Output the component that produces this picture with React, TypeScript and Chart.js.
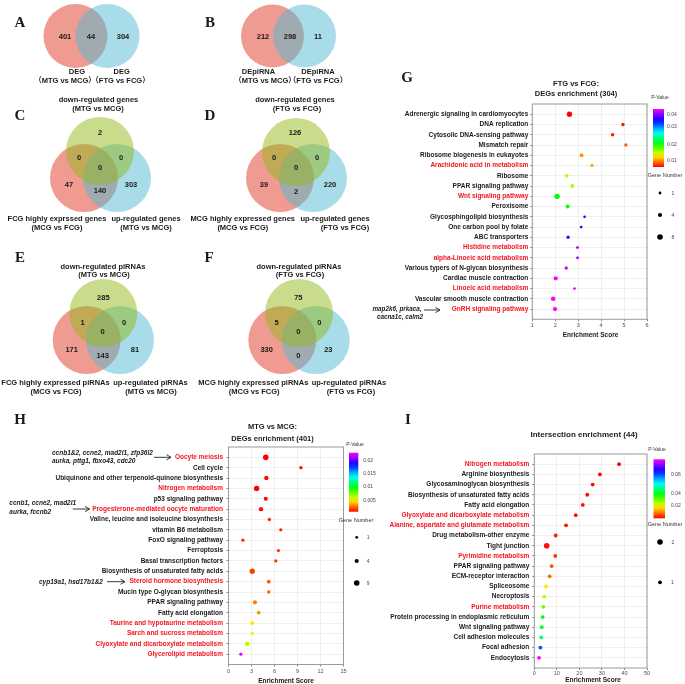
import React, { useEffect, useRef } from 'react';
import { Chart, registerables } from 'chart.js';

Chart.register(...registerables);

const SANS = '"Liberation Sans", Arial, "Noto Sans CJK SC", sans-serif';
const SERIF = '"Liberation Serif", "Times New Roman", serif';
Chart.defaults.font.family = SANS;

// ---------------- Venn counts ----------------
// two-set order: left only, overlap, right only
const aCounts = [401, 44, 304];
const bCounts = [212, 298, 11];
// three-set order: top only, top∩left, top∩right, all three, left only, left∩right, right only
const cCounts = [2, 0, 0, 0, 47, 140, 303];
const dCounts = [126, 0, 0, 0, 39, 2, 220];
const eCounts = [285, 1, 0, 0, 171, 143, 81];
const fCounts = [75, 5, 0, 0, 330, 0, 23];

// ---------------- G: FTG vs FCG ----------------
const gPathways = [
  'Adrenergic signaling in cardiomyocytes',
  'DNA replication',
  'Cytosolic DNA-sensing pathway',
  'Mismatch repair',
  'Ribosome biogenesis in eukayotes',
  'Arachidonic acid in metabolism',
  'Ribosome',
  'PPAR signaling pathway',
  'Wnt signaling pathway',
  'Peroxisome',
  'Glycosphingolipid biosynthesis',
  'One carbon pool by folate',
  'ABC transporters',
  'Histidine metabolism',
  'alpha-Linoeic acid metabolism',
  'Various typers of N-glycan biosynthesis',
  'Cardiac muscle contraction',
  'Linoeic acid metabolism',
  'Vascular smooth muscle contraction',
  'GnRH signaling pathway',
];
const gScore = [2.62, 4.95, 4.5, 5.08, 3.15, 3.6, 2.5, 2.74, 2.08, 2.54, 3.28, 3.13, 2.56, 2.97, 2.97, 2.48, 2.02, 2.84, 1.91, 1.99];
const gPValue = [0.0055, 0.006, 0.006, 0.008, 0.0098, 0.0105, 0.015, 0.0155, 0.0205, 0.0205, 0.0345, 0.035, 0.038, 0.04, 0.04, 0.042, 0.0433, 0.0433, 0.0433, 0.0433];
const gGenes = [7, 2, 2, 2, 3, 2, 3, 3, 7, 3, 1, 1, 2, 1, 1, 2, 4, 1, 5, 4];
const gHighlight = ['Arachidonic acid in metabolism', 'Wnt signaling pathway', 'Histidine metabolism', 'alpha-Linoeic acid metabolism', 'Linoeic acid metabolism', 'GnRH signaling pathway'];
const gXTicks = [1, 6, 1];
const gPTicks = ['0.04', '0.03', '0.02', '0.01'];
const gSizeLegend = [1, 4, 8];

// ---------------- H: MTG vs MCG ----------------
const hPathways = [
  'Oocyte meiosis',
  'Cell cycle',
  'Ubiquinone and other terpenoid-quinone biosynthesis',
  'Nitrogen metabolism',
  'p53 signaling pathway',
  'Progesterone-mediated oocyte maturation',
  'Valine, leucine and isoleucine biosynthesis',
  'vitamin B6 metabolism',
  'FoxO signaling pathway',
  'Ferroptosis',
  'Basal transcription factors',
  'Biosynthesis of unsaturated fatty acids',
  'Steroid hormone biosynthesis',
  'Mucin type O-glycan biosynthesis',
  'PPAR signaling pathway',
  'Fatty acid elongation',
  'Taurine and hypotaurine metabolism',
  'Sarch and sucross metabolism',
  'Clyoxylate and dicarboxylate metabolism',
  'Glycerolipid metabolism',
];
const hScore = [4.86, 9.45, 4.94, 3.67, 4.86, 4.24, 5.33, 6.82, 1.88, 6.51, 6.17, 3.1, 5.25, 5.25, 3.45, 3.94, 3.1, 3.1, 2.44, 1.61];
const hPValue = [0.0006, 0.0007, 0.0007, 0.0006, 0.0007, 0.0008, 0.0012, 0.0012, 0.0013, 0.0015, 0.0015, 0.0017, 0.0021, 0.0022, 0.0028, 0.0032, 0.0047, 0.0058, 0.0061, 0.0225];
const hGenes = [9, 2, 5, 8, 4, 5, 2, 2, 2, 2, 2, 8, 3, 2, 4, 3, 4, 2, 6, 2];
const hHighlight = ['Oocyte meiosis', 'Nitrogen metabolism', 'Progesterone-mediated oocyte maturation', 'Steroid hormone biosynthesis', 'Taurine and hypotaurine metabolism', 'Sarch and sucross metabolism', 'Clyoxylate and dicarboxylate metabolism', 'Glycerolipid metabolism'];
const hXTicks = [0, 15, 3];
const hPTicks = ['0.02', '0.015', '0.01', '0.005'];
const hSizeLegend = [1, 4, 9];

// ---------------- I: Intersection ----------------
const iPathways = [
  'Nitrogen metabolism',
  'Arginine biosynthesis',
  'Glycosaminoglycan biosynthesis',
  'Biosynthesis of unsaturated fatty acids',
  'Fatty acid elongation',
  'Glyoxylate and dicarboxylate metabolism',
  'Alanine, aspartate and glutamate metabolism',
  'Drug metabolism-other enzyme',
  'Tight junction',
  'Pyrimidine metabolism',
  'PPAR signaling pathway',
  'ECM-receptor interaction',
  'Spliceosome',
  'Necroptosis',
  'Purine metabolism',
  'Protein processing in endoplasmic reticulum',
  'Wnt signaling pathway',
  'Cell adhesion molecules',
  'Focal adhesion',
  'Endocytosis',
];
const iScore = [37.6, 29.1, 25.9, 23.5, 21.5, 18.4, 14.1, 9.5, 5.5, 9.3, 7.7, 6.8, 5.2, 4.4, 4.0, 3.7, 3.3, 3.1, 2.7, 2.1];
const iPValue = [0.0035, 0.0038, 0.004, 0.004, 0.0042, 0.0045, 0.0047, 0.005, 0.0045, 0.006, 0.0079, 0.0097, 0.0172, 0.0223, 0.0273, 0.0336, 0.0361, 0.041, 0.0587, 0.0788];
const iGenes = [1, 1, 1, 1, 1, 1, 1, 1, 2, 1, 1, 1, 1, 1, 1, 1, 1, 1, 1, 1];
const iHighlight = ['Nitrogen metabolism', 'Glyoxylate and dicarboxylate metabolism', 'Alanine, aspartate and glutamate metabolism', 'Pyrimidine metabolism', 'Purine metabolism'];
const iXTicks = [0, 50, 10];
const iPTicks = ['0.06', '0.04', '0.02'];
const iSizeLegend = [2, 1];

// ---------------- styling helpers ----------------
const RED_TXT = '#f5141e';
const DARK = '#1a1a1a';

function pColor(p: number, lo: number, hi: number) {
  const t = Math.min(1, Math.max(0, (p - lo) / (hi - lo)));
  return `hsl(${300 * t}, 100%, 50%)`;
}

type SizeScale = { gLo: number; gHi: number; rLo: number; rHi: number };
function sizeFor(g: number, s: SizeScale) {
  const f = Math.min(1, Math.max(0, (g - s.gLo) / (s.gHi - s.gLo)));
  return Math.sqrt(s.rLo * s.rLo + (s.rHi * s.rHi - s.rLo * s.rLo) * f);
}

type Spec = {
  labels: string[]; scores: number[]; pvals: number[]; genes: number[]; highlight: string[];
  xTicks: number[];
  box: { left: number; top: number; width: number; height: number };
  padTop: number; padRight: number; yAxisW: number; xAxisH: number;
  xTickPad: number; yTickPad: number;
  pLo: number; pHi: number; size: SizeScale;
};

const G_SPEC: Spec = {
  labels: gPathways, scores: gScore, pvals: gPValue, genes: gGenes, highlight: gHighlight, xTicks: gXTicks,
  box: { left: 380, top: 94, width: 272, height: 255 }, padTop: 10, padRight: 5, yAxisW: 152.3, xAxisH: 29.7,
  xTickPad: 1, yTickPad: 2, pLo: 0.0054, pHi: 0.0433, size: { gLo: 1, gHi: 8, rLo: 1.4, rHi: 2.8 },
};
const H_SPEC: Spec = {
  labels: hPathways, scores: hScore, pvals: hPValue, genes: hGenes, highlight: hHighlight, xTicks: hXTicks,
  box: { left: 0, top: 435, width: 349, height: 249 }, padTop: 12, padRight: 5.5, yAxisW: 228.5, xAxisH: 19.5,
  xTickPad: 2, yTickPad: 3.5, pLo: 0.0006, pHi: 0.0227, size: { gLo: 1, gHi: 9, rLo: 1.4, rHi: 2.8 },
};
const I_SPEC: Spec = {
  labels: iPathways, scores: iScore, pvals: iPValue, genes: iGenes, highlight: iHighlight, xTicks: iXTicks,
  box: { left: 380, top: 442, width: 272, height: 242 }, padTop: 12, padRight: 5, yAxisW: 154.3, xAxisH: 16,
  xTickPad: 0, yTickPad: 3, pLo: 0.0034, pHi: 0.0788, size: { gLo: 1, gHi: 2, rLo: 1.9, rHi: 2.8 },
};

// ---------------- Venn layout (geometry only) ----------------
type Circle = { col: 'red' | 'blue' | 'green'; x: number; y: number; r: number };
type Venn = { counts: number[]; circles: Circle[]; spots: number[][] };
const VENNS: Venn[] = [
  { counts: aCounts, circles: [{ col: 'red', x: 75.5, y: 36, r: 32 }, { col: 'blue', x: 107.5, y: 36, r: 32 }], spots: [[65, 37], [91, 37], [123, 37]] },
  { counts: bCounts, circles: [{ col: 'red', x: 272.5, y: 36, r: 31.5 }, { col: 'blue', x: 304.5, y: 36, r: 31.5 }], spots: [[263, 37], [290, 37], [318, 37]] },
  { counts: cCounts, circles: [{ col: 'green', x: 100, y: 151, r: 34 }, { col: 'red', x: 84, y: 178, r: 34 }, { col: 'blue', x: 117, y: 178, r: 34 }],
    spots: [[100, 133], [79, 158], [121, 158], [100, 168], [69, 185], [100, 191], [131, 185]] },
  { counts: dCounts, circles: [{ col: 'green', x: 296, y: 152, r: 34 }, { col: 'red', x: 280, y: 178, r: 34 }, { col: 'blue', x: 313, y: 178, r: 34 }],
    spots: [[295, 133], [274, 158], [317, 158], [296, 167.5], [264, 184.5], [296, 191.5], [330, 184.5]] },
  { counts: eCounts, circles: [{ col: 'green', x: 103.3, y: 313, r: 34 }, { col: 'red', x: 86.7, y: 340, r: 34 }, { col: 'blue', x: 120, y: 340, r: 34 }],
    spots: [[103.3, 298.3], [82.7, 323.3], [124, 323.3], [102.7, 332.3], [71.7, 350], [102.7, 356], [135, 350]] },
  { counts: fCounts, circles: [{ col: 'green', x: 299, y: 313, r: 34 }, { col: 'red', x: 282.3, y: 340, r: 34 }, { col: 'blue', x: 315.7, y: 340, r: 34 }],
    spots: [[298.3, 298.3], [276.7, 323.3], [319.3, 323.3], [298.3, 332.3], [266.7, 350], [298.3, 356], [328.3, 350]] },
];

const ARROWS = [
  [424, 440, 310],
  [154, 171, 457.3],
  [72.7, 89.5, 509],
  [107, 125, 581.7],
];
const BARS = [
  { x: 653, y: 109, w: 11, h: 58 },
  { x: 349, y: 452.7, w: 9.3, h: 59 },
  { x: 653.5, y: 459.3, w: 11.5, h: 59 },
];
const SIZE_LEGENDS = [
  { values: gSizeLegend, size: G_SPEC.size, x: 660, ys: [193, 215, 237] },
  { values: hSizeLegend, size: H_SPEC.size, x: 356.7, ys: [537.3, 561, 583] },
  { values: iSizeLegend, size: I_SPEC.size, x: 660, ys: [542, 582.3] },
];

// ---------------- plugins ----------------
const vennNumbers = {
  id: 'vennNumbers',
  afterDatasetsDraw(chart: any) {
    const { ctx, scales } = chart;
    ctx.save();
    ctx.font = `bold 7.5px ${SANS}`;
    ctx.fillStyle = DARK;
    ctx.textAlign = 'center';
    ctx.textBaseline = 'middle';
    VENNS.forEach((v) => v.spots.forEach((s, i) => {
      ctx.fillText(String(v.counts[i]), scales.x.getPixelForValue(s[0]), scales.y.getPixelForValue(s[1]));
    }));
    ctx.restore();
  },
};

const decor = {
  id: 'decor',
  afterDraw(chart: any) {
    const { ctx, scales } = chart;
    const px = (v: number) => scales.x.getPixelForValue(v);
    const py = (v: number) => scales.y.getPixelForValue(v);
    ctx.save();
    // arrows
    ctx.strokeStyle = '#222';
    ctx.lineWidth = 0.9;
    ARROWS.forEach(([x1, x2, y]) => {
      ctx.beginPath();
      ctx.moveTo(px(x1), py(y));
      ctx.lineTo(px(x2), py(y));
      ctx.stroke();
      ctx.beginPath();
      ctx.moveTo(px(x2) - 4.5, py(y) - 2.6);
      ctx.lineTo(px(x2), py(y));
      ctx.lineTo(px(x2) - 4.5, py(y) + 2.6);
      ctx.stroke();
    });
    // colour bars
    BARS.forEach((b) => {
      const top = py(b.y);
      const bottom = py(b.y + b.h);
      const g = ctx.createLinearGradient(0, bottom, 0, top);
      for (let k = 0; k <= 12; k++) g.addColorStop(k / 12, `hsl(${(300 * k) / 12}, 100%, 50%)`);
      ctx.fillStyle = g;
      ctx.fillRect(px(b.x), top, px(b.x + b.w) - px(b.x), bottom - top);
    });
    // gene number legend dots
    ctx.fillStyle = '#000';
    SIZE_LEGENDS.forEach((l) => {
      l.values.forEach((v, i) => {
        ctx.beginPath();
        ctx.arc(px(l.x), py(l.ys[i]), sizeFor(v, l.size), 0, Math.PI * 2);
        ctx.fill();
      });
    });
    ctx.restore();
  },
};

const frame = {
  id: 'frame',
  beforeDatasetsDraw(chart: any) {
    const { ctx, chartArea: a } = chart;
    ctx.save();
    ctx.strokeStyle = '#9a9a9a';
    ctx.lineWidth = 1;
    ctx.strokeRect(a.left, a.top, a.right - a.left, a.bottom - a.top);
    ctx.restore();
  },
};

// ---------------- components ----------------
function Overlay() {
  const ref = useRef<HTMLCanvasElement>(null);
  useEffect(() => {
    const all = VENNS.flatMap((v) => v.circles);
    const ds = (col: string) => all.filter((c) => c.col === col).map((c) => ({ x: c.x, y: c.y, r: c.r }));
    const chart = new Chart(ref.current as HTMLCanvasElement, {
      type: 'bubble',
      data: {
        datasets: [
          { label: 'green', data: ds('green'), backgroundColor: 'rgba(145,185,25,0.5)', borderWidth: 0, order: 0 },
          { label: 'blue', data: ds('blue'), backgroundColor: 'rgba(81,185,209,0.5)', borderWidth: 0, order: 1 },
          { label: 'red', data: ds('red'), backgroundColor: 'rgba(225,55,35,0.5)', borderWidth: 0, order: 2 },
        ],
      },
      options: {
        animation: false,
        responsive: true,
        maintainAspectRatio: false,
        events: [],
        clip: false,
        layout: { padding: 0, autoPadding: false },
        scales: {
          x: { type: 'linear', min: 0, max: 685, display: false },
          y: { type: 'linear', min: 0, max: 684, reverse: true, display: false },
        },
        plugins: { legend: { display: false }, tooltip: { enabled: false } },
      } as any,
      plugins: [vennNumbers, decor],
    });
    return () => chart.destroy();
  }, []);
  return (
    <div style={{ position: 'absolute', left: 0, top: 0, width: 685, height: 684 }}>
      <canvas ref={ref} />
    </div>
  );
}

function Enrich({ spec }: { spec: Spec }) {
  const ref = useRef<HTMLCanvasElement>(null);
  useEffect(() => {
    const n = spec.labels.length;
    const hl = new Set(spec.highlight);
    const chart = new Chart(ref.current as HTMLCanvasElement, {
      type: 'scatter',
      data: {
        datasets: [
          {
            data: spec.scores.map((s, i) => ({ x: s, y: i })),
            pointRadius: spec.genes.map((g) => sizeFor(g, spec.size)),
            pointHoverRadius: spec.genes.map((g) => sizeFor(g, spec.size)),
            pointBackgroundColor: spec.pvals.map((p) => pColor(p, spec.pLo, spec.pHi)),
            pointBorderWidth: 0,
            showLine: false,
          },
        ],
      },
      options: {
        animation: false,
        responsive: true,
        maintainAspectRatio: false,
        events: [],
        layout: { padding: { top: spec.padTop, right: spec.padRight, left: 0, bottom: 0 }, autoPadding: false },
        plugins: { legend: { display: false }, tooltip: { enabled: false } },
        scales: {
          x: {
            type: 'linear',
            min: spec.xTicks[0],
            max: spec.xTicks[1],
            ticks: { stepSize: spec.xTicks[2], font: { size: 5.5 }, color: '#4d4d4d', padding: spec.xTickPad },
            grid: { color: '#ebebeb', lineWidth: 0.8, tickLength: 2, tickColor: '#666' },
            border: { display: false },
            afterFit: (s: any) => { s.height = spec.xAxisH; },
          },
          y: {
            type: 'linear',
            reverse: true,
            min: -1,
            max: n,
            afterBuildTicks: (s: any) => { s.ticks = spec.labels.map((_, i) => ({ value: i })); },
            ticks: {
              autoSkip: false,
              padding: spec.yTickPad,
              font: { size: 6.5, weight: 'bold' },
              color: (c: any) => (hl.has(spec.labels[c.tick?.value]) ? RED_TXT : DARK),
              callback: (v: any) => spec.labels[v] ?? '',
            },
            grid: { color: '#ebebeb', lineWidth: 0.8, tickLength: 2, tickColor: '#666' },
            border: { display: false },
            afterFit: (s: any) => { s.width = spec.yAxisW; },
          },
        },
      } as any,
      plugins: [frame],
    });
    return () => chart.destroy();
  }, []);
  const b = spec.box;
  return (
    <div style={{ position: 'absolute', left: b.left, top: b.top, width: b.width, height: b.height }}>
      <canvas ref={ref} />
    </div>
  );
}

type T = { t: string; x: number; y: number; s: number; w?: number; i?: boolean; a?: 'c' | 'l'; c?: string; f?: string };
const B = 700;
const TEXTS: T[] = [
  // panel letters
  { t: 'A', x: 20, y: 22, s: 15, w: B, f: SERIF },
  { t: 'B', x: 210, y: 22, s: 15, w: B, f: SERIF },
  { t: 'C', x: 20, y: 115, s: 15, w: B, f: SERIF },
  { t: 'D', x: 210, y: 115, s: 15, w: B, f: SERIF },
  { t: 'E', x: 20, y: 257, s: 15, w: B, f: SERIF },
  { t: 'F', x: 209, y: 257, s: 15, w: B, f: SERIF },
  { t: 'G', x: 407, y: 77, s: 15, w: B, f: SERIF },
  { t: 'H', x: 20, y: 419, s: 15, w: B, f: SERIF },
  { t: 'I', x: 408, y: 419, s: 15, w: B, f: SERIF },
  // A
  { t: 'DEG', x: 77, y: 72, s: 7.5, w: B },
  { t: '（MTG vs MCG）', x: 65, y: 81, s: 7.5, w: B },
  { t: 'DEG', x: 121.7, y: 72, s: 7.5, w: B },
  { t: '（FTG vs FCG）', x: 120.5, y: 81, s: 7.5, w: B },
  // B
  { t: 'DEpiRNA', x: 258.5, y: 72, s: 7.5, w: B },
  { t: '（MTG vs MCG）', x: 265, y: 81, s: 7.5, w: B },
  { t: 'DEpiRNA', x: 318, y: 72, s: 7.5, w: B },
  { t: '（FTG vs FCG）', x: 318, y: 81, s: 7.5, w: B },
  // C
  { t: 'down-regulated genes', x: 98.5, y: 100, s: 7.5, w: B },
  { t: '(MTG vs MCG)', x: 98, y: 109, s: 7.5, w: B },
  { t: 'FCG highly exprssed genes', x: 57, y: 218.5, s: 7.5, w: B },
  { t: '(MCG vs FCG)', x: 57, y: 227.5, s: 7.5, w: B },
  { t: 'up-regulated genes', x: 146, y: 218.5, s: 7.5, w: B },
  { t: '(MTG vs MCG)', x: 146, y: 227.5, s: 7.5, w: B },
  // D
  { t: 'down-regulated genes', x: 295, y: 100, s: 7.5, w: B },
  { t: '(FTG vs FCG)', x: 297, y: 109, s: 7.5, w: B },
  { t: 'MCG highly expressed genes', x: 242.7, y: 218.5, s: 7.5, w: B },
  { t: '(MCG vs FCG)', x: 242.8, y: 227.5, s: 7.5, w: B },
  { t: 'up-regulated genes', x: 335, y: 218.5, s: 7.5, w: B },
  { t: '(FTG vs FCG)', x: 345, y: 227.5, s: 7.5, w: B },
  // E
  { t: 'down-regulated piRNAs', x: 103, y: 266.7, s: 7.5, w: B },
  { t: '(MTG vs MCG)', x: 104, y: 275.3, s: 7.5, w: B },
  { t: 'FCG highly expressed piRNAs', x: 55.5, y: 383.3, s: 7.5, w: B },
  { t: '(MCG vs FCG)', x: 56, y: 392.3, s: 7.5, w: B },
  { t: 'up-regulated piRNAs', x: 150.5, y: 383.3, s: 7.5, w: B },
  { t: '(MTG vs MCG)', x: 151, y: 392.3, s: 7.5, w: B },
  // F
  { t: 'down-regulated piRNAs', x: 299, y: 266.7, s: 7.5, w: B },
  { t: '(FTG vs FCG)', x: 300, y: 275.3, s: 7.5, w: B },
  { t: 'MCG highly expressed piRNAs', x: 253.3, y: 383.3, s: 7.5, w: B },
  { t: '(MCG vs FCG)', x: 254.2, y: 392.3, s: 7.5, w: B },
  { t: 'up-regulated piRNAs', x: 349, y: 383.3, s: 7.5, w: B },
  { t: '(FTG vs FCG)', x: 351, y: 392.3, s: 7.5, w: B },
  // G
  { t: 'FTG vs FCG:', x: 576, y: 84, s: 7.5, w: B },
  { t: 'DEGs enrichment (304)', x: 576, y: 94, s: 7.5, w: B },
  { t: 'Enrichment Score', x: 590.5, y: 335, s: 6.5, w: B },
  { t: 'P-Value', x: 660, y: 97, s: 5, c: '#333' },
  { t: gPTicks[0], x: 667, y: 114, s: 5, a: 'l', c: '#444' },
  { t: gPTicks[1], x: 667, y: 126, s: 5, a: 'l', c: '#444' },
  { t: gPTicks[2], x: 667, y: 143.5, s: 5, a: 'l', c: '#444' },
  { t: gPTicks[3], x: 667, y: 160, s: 5, a: 'l', c: '#444' },
  { t: 'Gene Number', x: 665, y: 176, s: 5.5, c: '#333' },
  { t: String(gSizeLegend[0]), x: 671.5, y: 193, s: 5, a: 'l', c: '#444' },
  { t: String(gSizeLegend[1]), x: 671.5, y: 215, s: 5, a: 'l', c: '#444' },
  { t: String(gSizeLegend[2]), x: 671.5, y: 237, s: 5, a: 'l', c: '#444' },
  { t: 'map2k6, prkaca,', x: 397, y: 309.3, s: 6.3, w: B, i: true },
  { t: 'cacna1c, calm2', x: 400, y: 316.7, s: 6.3, w: B, i: true },
  // H
  { t: 'MTG vs MCG:', x: 272.5, y: 427, s: 7.5, w: B },
  { t: 'DEGs enrichment (401)', x: 272.5, y: 439, s: 7.5, w: B },
  { t: 'Enrichment Score', x: 286, y: 681, s: 6.5, w: B },
  { t: 'ccnb1&2, ccne2, mad2l1, zfp36l2', x: 52, y: 453.3, s: 6.5, w: B, i: true, a: 'l' },
  { t: 'aurka, pttg1, fbxo43, cdc20', x: 52, y: 460.7, s: 6.5, w: B, i: true, a: 'l' },
  { t: 'ccnb1, ccne2, mad2l1', x: 9.3, y: 502.7, s: 6.5, w: B, i: true, a: 'l' },
  { t: 'aurka, fccnb2', x: 9.3, y: 511.7, s: 6.5, w: B, i: true, a: 'l' },
  { t: 'cyp19a1, hsd17b1&2', x: 39, y: 582.3, s: 6.5, w: B, i: true, a: 'l' },
  { t: 'P-Value', x: 355, y: 444, s: 5, c: '#333' },
  { t: hPTicks[0], x: 363.3, y: 460, s: 5, a: 'l', c: '#444' },
  { t: hPTicks[1], x: 363.3, y: 472.7, s: 5, a: 'l', c: '#444' },
  { t: hPTicks[2], x: 363.3, y: 486, s: 5, a: 'l', c: '#444' },
  { t: hPTicks[3], x: 363.3, y: 500, s: 5, a: 'l', c: '#444' },
  { t: 'Gene Number', x: 356, y: 520.7, s: 5.5, c: '#333' },
  { t: String(hSizeLegend[0]), x: 366.7, y: 537.3, s: 5, a: 'l', c: '#444' },
  { t: String(hSizeLegend[1]), x: 366.7, y: 561, s: 5, a: 'l', c: '#444' },
  { t: String(hSizeLegend[2]), x: 366.7, y: 583, s: 5, a: 'l', c: '#444' },
  // I
  { t: 'Intersection enrichment (44)', x: 584, y: 435, s: 8, w: B },
  { t: 'Enrichment Score', x: 593, y: 680, s: 6.5, w: B },
  { t: 'P-Value', x: 657, y: 449.3, s: 5, c: '#333' },
  { t: iPTicks[0], x: 671, y: 474, s: 5, a: 'l', c: '#444' },
  { t: iPTicks[1], x: 671, y: 492.7, s: 5, a: 'l', c: '#444' },
  { t: iPTicks[2], x: 671, y: 505.3, s: 5, a: 'l', c: '#444' },
  { t: 'Gene Number', x: 665, y: 525, s: 5.5, c: '#333' },
  { t: String(iSizeLegend[0]), x: 671.5, y: 542, s: 5, a: 'l', c: '#444' },
  { t: String(iSizeLegend[1]), x: 671, y: 582.3, s: 5, a: 'l', c: '#444' },
];

export default function App() {
  return (
    <div style={{ position: 'absolute', left: 0, top: 0, width: 685, height: 684, background: '#fff', overflow: 'hidden', fontFamily: SANS }}>
      <Overlay />
      <Enrich spec={G_SPEC} />
      <Enrich spec={H_SPEC} />
      <Enrich spec={I_SPEC} />
      {TEXTS.map((it, k) => (
        <div
          key={k}
          style={{
            position: 'absolute',
            left: it.x,
            top: it.y,
            transform: `translate(${it.a === 'l' ? 0 : -50}%, -50%)`,
            fontSize: it.s,
            fontWeight: it.w ?? 400,
            fontStyle: it.i ? 'italic' : 'normal',
            fontFamily: it.f ?? SANS,
            color: it.c ?? DARK,
            lineHeight: 1,
            whiteSpace: 'nowrap',
          }}
        >
          {it.t}
        </div>
      ))}
    </div>
  );
}
